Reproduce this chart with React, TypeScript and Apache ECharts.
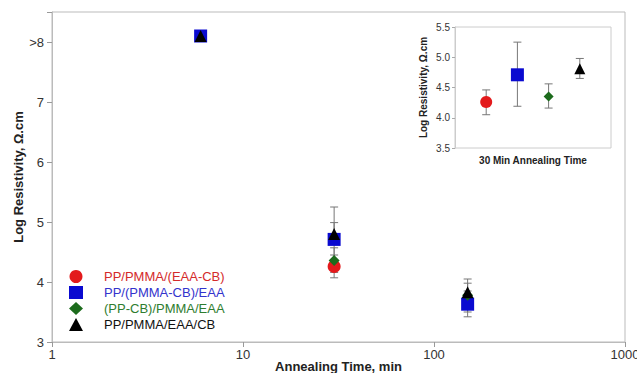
import React, { useEffect, useRef } from "react";
import * as echarts from "echarts";

// Main chart data: [annealing time (min), log resistivity]
const redMain = [[30, 4.26]];
const blueMain = [[6, 8.1], [30, 4.71], [150, 3.63]];
const greenMain = [[30, 4.36], [150, 3.78]];
const blackMain = [[6, 8.1], [30, 4.8], [150, 3.83]];

// Error bars: [time, low, high]
const redErr = [[30, 4.07, 4.45]];
const blueErr = [[30, 4.2, 5.25], [150, 3.42, 3.85]];
const greenErr = [[30, 4.16, 4.57], [150, 3.5, 3.98]];
const blackErr = [[30, 4.65, 4.99], [150, 3.7, 4.05]];

// Inset (30 min annealing)
const insetX = [1, 2, 3, 4];
const insetMean = [4.26, 4.71, 4.35, 4.81];
const insetLow = [4.05, 4.19, 4.16, 4.65];
const insetHigh = [4.46, 5.25, 4.56, 4.98];

const names = ["PP/PMMA/(EAA-CB)", "PP/(PMMA-CB)/EAA", "(PP-CB)/PMMA/EAA", "PP/PMMA/EAA/CB"];
const colors = ["#e31a1c", "#0a0ad0", "#1c6b1c", "#000000"];
const textColors = ["#d42a2a", "#3333cc", "#2f7d2f", "#111111"];
const symbols = ["circle", "rect", "diamond", "triangle"];
const mainSizes = [13, 13, 11, 12];
const insetSizes = [12, 13, 10, 11];

const FONT = "Liberation Sans, Arial, sans-serif";

function errRender(capHalf: number) {
  return (params: any, api: any) => {
    const x = api.value(0);
    const lo = api.coord([x, api.value(1)]);
    const hi = api.coord([x, api.value(2)]);
    const st = { stroke: "#777", lineWidth: 1 };
    return {
      type: "group",
      children: [
        { type: "line", shape: { x1: lo[0], y1: lo[1], x2: hi[0], y2: hi[1] }, style: st },
        { type: "line", shape: { x1: lo[0] - capHalf, y1: lo[1], x2: lo[0] + capHalf, y2: lo[1] }, style: st },
        { type: "line", shape: { x1: hi[0] - capHalf, y1: hi[1], x2: hi[0] + capHalf, y2: hi[1] }, style: st },
      ],
    };
  };
}

export default function App() {
  const ref = useRef<HTMLDivElement>(null);
  useEffect(() => {
    if (!ref.current) return;
    const chart = echarts.init(ref.current, null, { renderer: "svg" });
    const mainData = [redMain, blueMain, greenMain, blackMain];
    const mainErr = [redErr, blueErr, greenErr, blackErr];
    const series: any[] = [];
    mainErr.forEach((d, i) => {
      series.push({
        type: "custom",
        name: "err" + i,
        xAxisIndex: 0,
        yAxisIndex: 0,
        data: d,
        renderItem: errRender(4),
        z: 1,
        silent: true,
      });
    });
    mainData.forEach((d, i) => {
      series.push({
        type: "scatter",
        name: names[i],
        xAxisIndex: 0,
        yAxisIndex: 0,
        data: d,
        symbol: symbols[i],
        symbolSize: mainSizes[i],
        itemStyle: { color: colors[i], opacity: 1 },
        z: 2 + i,
      });
    });
    series.push({
      type: "custom",
      name: "insetErr",
      xAxisIndex: 1,
      yAxisIndex: 1,
      data: insetX.map((x, i) => [x, insetLow[i], insetHigh[i]]),
      renderItem: errRender(4),
      z: 1,
      silent: true,
    });
    insetX.forEach((x, i) => {
      series.push({
        type: "scatter",
        name: names[i],
        xAxisIndex: 1,
        yAxisIndex: 1,
        data: [[x, insetMean[i]]],
        symbol: symbols[i],
        symbolSize: insetSizes[i],
        itemStyle: { color: colors[i], opacity: 1 },
        z: 2 + i,
      });
    });

    chart.setOption({
      animation: false,
      textStyle: { fontFamily: FONT },
      legend: {
        orient: "vertical",
        left: 64,
        top: 265,
        itemGap: 3,
        itemWidth: 14,
        itemHeight: 13,
        selectedMode: false,
        data: names.map((n, i) => ({
          name: n,
          icon: symbols[i],
          textStyle: { color: textColors[i], fontSize: 13, fontFamily: FONT, padding: [0, 0, 0, 16] },
        })),
      },
      grid: [
        { left: 52, top: 12, width: 573, height: 330, show: true, borderColor: "#bbb", borderWidth: 1, backgroundColor: "transparent", outerBoundsMode: "none", containLabel: false },
        { left: 455, top: 27, width: 156, height: 121, show: true, borderColor: "#ccc", borderWidth: 1, backgroundColor: "transparent", outerBoundsMode: "none", containLabel: false },
      ],
      xAxis: [
        {
          gridIndex: 0,
          type: "log",
          logBase: 10,
          min: 1,
          max: 1000,
          name: "Annealing Time, min",
          nameLocation: "middle",
          nameGap: 18,
          nameMoveOverlap: false,
          nameTextStyle: { fontWeight: "bold", fontSize: 13, color: "#222", fontFamily: FONT },
          axisLine: { lineStyle: { color: "#bbb" } },
          axisTick: { show: true, length: 5, lineStyle: { color: "#999" } },
          minorTick: { show: false },
          splitLine: { show: false },
          axisLabel: { fontSize: 13, color: "#333", margin: 6, fontFamily: FONT, formatter: (v: number) => String(Math.round(v)) },
        },
        {
          gridIndex: 1,
          type: "value",
          min: 0,
          max: 5,
          name: "30 Min Annealing Time",
          nameLocation: "middle",
          nameGap: 7,
          nameTextStyle: { fontWeight: "bold", fontSize: 10, color: "#222", fontFamily: FONT },
          axisLine: { show: false },
          axisTick: { show: false },
          splitLine: { show: false },
          axisLabel: { show: false },
        },
      ],
      yAxis: [
        {
          gridIndex: 0,
          type: "value",
          min: 3,
          max: 8.5,
          interval: 1,
          name: "Log Resistivity, Ω.cm",
          nameLocation: "middle",
          nameGap: 27,
          nameMoveOverlap: false,
          nameTextStyle: { fontWeight: "bold", fontSize: 13, color: "#222", fontFamily: FONT },
          axisLine: { show: true, lineStyle: { color: "#bbb" } },
          axisTick: { show: true, length: 5, lineStyle: { color: "#999" } },
          splitLine: { show: false },
          axisLabel: {
            fontSize: 13,
            color: "#333",
            margin: 8,
            fontFamily: FONT,
            formatter: (v: number) => (v === 8 ? ">8" : Number.isInteger(v) ? String(v) : ""),
          },
        },
        {
          gridIndex: 1,
          type: "value",
          min: 3.5,
          max: 5.5,
          interval: 0.5,
          name: "Log Resistivity, Ω.cm",
          nameLocation: "middle",
          nameGap: 27,
          nameTextStyle: { fontWeight: "bold", fontSize: 10, color: "#222", fontFamily: FONT },
          axisLine: { show: true, lineStyle: { color: "#ccc" } },
          axisTick: { show: true, length: 3, lineStyle: { color: "#aaa" } },
          splitLine: { show: false },
          axisLabel: {
            fontSize: 10,
            color: "#333",
            margin: 5,
            fontFamily: FONT,
            formatter: (v: number) => v.toFixed(1),
          },
        },
      ],
      series,
    });
    return () => chart.dispose();
  }, []);
  return <div ref={ref} style={{ width: 637, height: 373, position: "absolute", left: 0, top: 0 }} />;
}
